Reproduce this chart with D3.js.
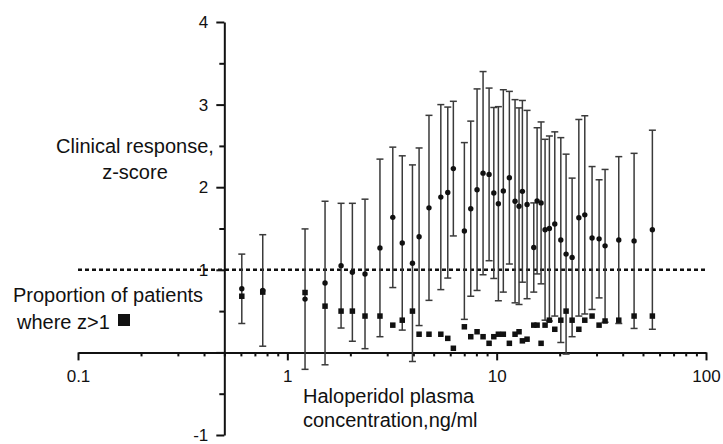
<!DOCTYPE html>
<meta charset="utf-8">
<script src="https://d3js.org/d3.v7.min.js"></script>
<style>
  body { margin: 0; background: #fff; }
  text { font-family: "Liberation Sans", Arial, sans-serif; fill: #111; }
</style>
<div id="chart"></div>
<script>

// concentration (ng/ml), one entry per group
var conc = [0.606, 0.763, 1.215, 1.514, 1.806, 2.045, 2.35, 2.77, 3.19, 3.54,
            3.96, 4.26, 4.75, 5.41, 5.84, 6.21, 7.01, 7.52, 8.06, 8.61,
            9.20, 9.69, 10.19, 10.76, 11.50, 12.24, 12.79, 13.27, 13.97, 15.04,
            15.6, 16.3, 17.03, 17.86, 18.95, 20.25, 21.46, 22.93, 24.69, 26.36,
            28.56, 30.85, 32.95, 38.31, 45.34, 55.44];

// mean clinical response z-score
var meanZ = [0.77, 0.75, 0.645, 0.84, 1.05, 0.97, 0.95, 1.265, 1.635, 1.325,
             1.08, 1.40, 1.75, 1.88, 1.935, 2.225, 1.47, 1.74, 1.97, 2.17,
             2.155, 1.93, 1.80, 1.955, 2.115, 1.83, 1.77, 1.95, 1.79, 1.27,
             1.835, 1.81, 1.485, 1.50, 1.555, 1.36, 1.19, 1.15, 1.63, 1.665,
             1.385, 1.375, 1.29, 1.36, 1.35, 1.485];

// standard deviation (error bars)
var sdZ = [0.42, 0.675, 0.85, 0.99, 0.755, 0.835, 0.905, 1.075, 0.85, 1.055,
           1.19, 1.075, 1.12, 1.12, 1.035, 0.815, 1.07, 1.06, 1.22, 1.23,
           1.045, 1.035, 1.175, 1.225, 1.045, 1.23, 1.19, 1.10, 1.14, 0.54,
           0.885, 0.98, 1.095, 1.12, 1.115, 1.24, 1.21, 0.96, 1.19, 1.20,
           0.865, 0.715, 0.925, 1.01, 1.06, 1.205];

// proportion of patients where z>1
var propZ = [0.68, 0.73, 0.725, 0.56, 0.50, 0.50, 0.44, 0.44, 0.33, 0.39,
             0.50, 0.22, 0.22, 0.22, 0.17, 0.05, 0.31, 0.19, 0.25, 0.19,
             0.11, 0.19, 0.22, 0.22, 0.11, 0.22, 0.25, 0.14, 0.16, 0.33,
             0.33, 0.11, 0.33, 0.39, 0.28, 0.39, 0.50, 0.39, 0.28, 0.39,
             0.44, 0.33, 0.38, 0.39, 0.44, 0.44];

var xMajor = [0.1, 1, 10, 100];
var yMajor = [-1, 0, 1, 2, 3, 4];
var yMinor = [-0.5, 0.5, 1.5, 2.5, 3.5];

var width = 723, height = 444;

var svg = d3.select("#chart")
  .append("svg")
    .attr("width", width)
    .attr("height", height);

var x = d3.scaleLog().domain([0.1, 100]).range([78, 706]);
var y = d3.scaleLinear().domain([-1, 4]).range([435, 22]);

// minor ticks for log axis
var xMinor = [];
[0.1, 1, 10].forEach(function(d) {
  for (var k = 2; k <= 9; k++) xMinor.push(d * k);
});

// X axis (crosses at y = 0)
svg.append("g")
  .attr("transform", "translate(0," + y(0) + ")")
  .call(d3.axisBottom(x).tickValues(xMinor).tickSize(4).tickSizeOuter(0).tickFormat(""))
  .call(function(g) { g.select(".domain").remove(); });

var xAxis = svg.append("g")
  .attr("transform", "translate(0," + y(0) + ")")
  .call(d3.axisBottom(x).tickValues(xMajor).tickSize(8).tickSizeOuter(0)
        .tickPadding(10).tickFormat(function(d) { return d3.format("")(d); }));
xAxis.selectAll("text").style("font-size", "17px");

// Y axis (crosses at x = 0.5)
var y0x = x(0.5);
svg.append("g")
  .attr("transform", "translate(" + y0x + ",0)")
  .call(d3.axisLeft(y).tickValues(yMinor).tickSize(5).tickFormat(""))
  .call(function(g) { g.select(".domain").remove(); });

var yAxis = svg.append("g")
  .attr("transform", "translate(" + y0x + ",0)")
  .call(d3.axisLeft(y).tickValues(yMajor).tickSize(8).tickSizeOuter(0)
        .tickPadding(8).tickFormat(function(d) { return d === 0 ? "" : d; }));
yAxis.selectAll("text").style("font-size", "17px");

svg.selectAll(".domain, .tick line")
  .attr("stroke", "#111")
  .attr("stroke-width", 2);

// dashed reference line at z = 1
svg.append("line")
  .attr("x1", x(0.1))
  .attr("x2", x(100))
  .attr("y1", y(1))
  .attr("y2", y(1))
  .attr("stroke", "#111")
  .attr("stroke-width", 2.5)
  .attr("stroke-dasharray", "4,3");

var data = conc.map(function(c, i) {
  return { c: c, m: meanZ[i], sd: sdZ[i], p: propZ[i] };
});

// error bars
var bars = svg.append("g")
  .attr("stroke", "#3a3a3a")
  .attr("stroke-width", 1.5);

bars.selectAll(".v")
  .data(data)
  .enter().append("line")
    .attr("x1", function(d) { return x(d.c); })
    .attr("x2", function(d) { return x(d.c); })
    .attr("y1", function(d) { return y(d.m + d.sd); })
    .attr("y2", function(d) { return y(d.m - d.sd); });

bars.selectAll(".capTop")
  .data(data)
  .enter().append("line")
    .attr("x1", function(d) { return x(d.c) - 3.5; })
    .attr("x2", function(d) { return x(d.c) + 3.5; })
    .attr("y1", function(d) { return y(d.m + d.sd); })
    .attr("y2", function(d) { return y(d.m + d.sd); });

bars.selectAll(".capBot")
  .data(data)
  .enter().append("line")
    .attr("x1", function(d) { return x(d.c) - 3.5; })
    .attr("x2", function(d) { return x(d.c) + 3.5; })
    .attr("y1", function(d) { return y(d.m - d.sd); })
    .attr("y2", function(d) { return y(d.m - d.sd); });

// proportion squares
svg.selectAll(".sq")
  .data(data)
  .enter().append("rect")
    .attr("x", function(d) { return x(d.c) - 2.75; })
    .attr("y", function(d) { return y(d.p) - 2.75; })
    .attr("width", 5.5)
    .attr("height", 5.5)
    .attr("fill", "#111");

// mean points
svg.selectAll(".pt")
  .data(data)
  .enter().append("circle")
    .attr("cx", function(d) { return x(d.c); })
    .attr("cy", function(d) { return y(d.m); })
    .attr("r", 2.7)
    .attr("fill", "#111");

// labels
svg.append("text").attr("x", 135).attr("y", 153).attr("text-anchor", "middle")
  .style("font-size", "20px").text("Clinical response,");
svg.append("text").attr("x", 135).attr("y", 179).attr("text-anchor", "middle")
  .style("font-size", "20px").text("z-score");

svg.append("text").attr("x", 13).attr("y", 302)
  .style("font-size", "20px").text("Proportion of patients");
svg.append("text").attr("x", 17).attr("y", 329)
  .style("font-size", "20px").text("where z>1");
svg.append("rect").attr("x", 118).attr("y", 314).attr("width", 12).attr("height", 12)
  .attr("fill", "#111");

svg.append("text").attr("x", 303).attr("y", 403)
  .style("font-size", "20px").text("Haloperidol plasma");
svg.append("text").attr("x", 303).attr("y", 427)
  .style("font-size", "20px").text("concentration,ng/ml");

</script>
